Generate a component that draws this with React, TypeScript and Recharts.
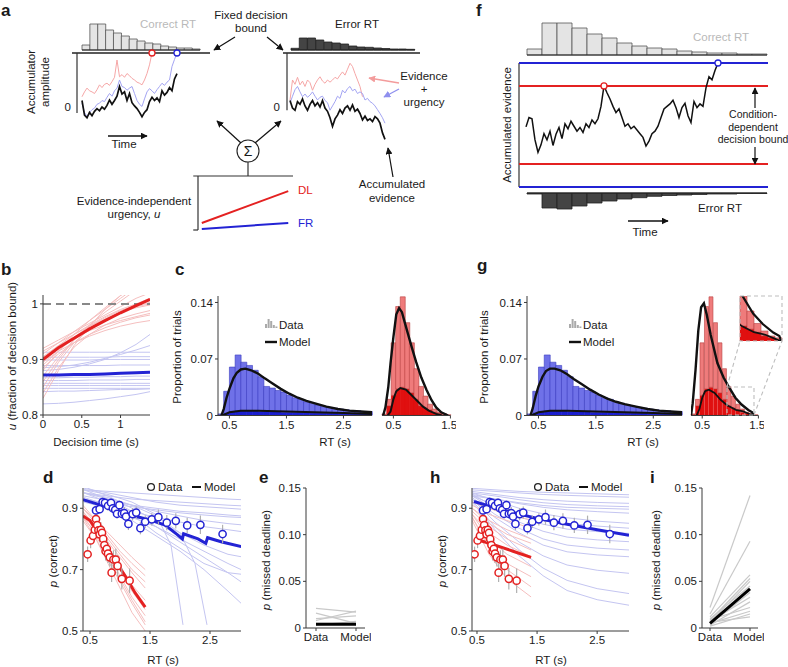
import {
  ComposedChart, Line, Bar, Scatter, XAxis, YAxis,
  ReferenceLine, ReferenceDot, ErrorBar,
} from "recharts";

const FONT = '"Liberation Sans", Arial, Helvetica, sans-serif';
const INK = "#1a1a1a";
const AX = "#3a3a3a";
const BLUE = "#2323d4";
const RED = "#e42121";
const THIN_BLUE = "#c4c5f1";
const THIN_RED = "#f5bfbf";
const GRAY_TXT = "#b9b9b9";

// ---------- a: single-trial schematic (0 = start, 1 = fixed bound) ----------
const aLeftBlack = [0.12, -0.15, -0.2, -0.1, -0.16, -0.08, -0.03, -0.07, 0.0, -0.04, 0.03, 0.13, 0.05, 0.12, 0.2, 0.38, 0.24, 0.28, 0.12, 0.25, 0.08, 0.02, -0.03, -0.1, -0.18, -0.1, -0.05, 0.1, 0.18, 0.12, 0.17, 0.1, 0.3, 0.22, 0.27, 0.36, 0.3, 0.52, 0.62];
const aLeftBlue = [0.07, -0.1, -0.18, -0.1, -0.05, -0.02, 0.05, 0.07, 0.12, 0.1, 0.18, 0.25, 0.2, 0.3, 0.35, 0.5, 0.38, 0.36, 0.31, 0.35, 0.38, 0.25, 0.12, 0.05, 0.01, 0.15, 0.28, 0.34, 0.3, 0.25, 0.32, 0.38, 0.44, 0.4, 0.46, 0.5, 0.75, 0.88, 1.0];
const aLeftRed = [0.19, 0.28, 0.35, 0.3, 0.28, 0.25, 0.32, 0.41, 0.36, 0.42, 0.44, 0.4, 0.47, 0.55, 0.87, 0.56, 0.6, 0.55, 0.62, 0.58, 0.53, 0.5, 0.46, 0.44, 0.41, 0.5, 0.62, 0.78, 1.0];
const aRightBlack = [0.12, -0.02, -0.06, 0.1, 0.05, 0.15, 0.02, -0.06, 0.05, 0.12, 0.02, 0.08, 0.0, 0.12, -0.02, -0.08, -0.2, -0.36, -0.22, -0.15, -0.05, -0.12, -0.02, 0.02, -0.06, 0.04, -0.08, -0.04, -0.12, -0.24, -0.17, -0.25, -0.22, -0.27, -0.18, -0.22, -0.3, -0.48, -0.6];
const aRightBlue = [0.07, 0.2, 0.32, 0.38, 0.28, 0.19, 0.24, 0.18, 0.22, 0.28, 0.2, 0.13, 0.18, 0.2, 0.12, 0.08, -0.06, 0.02, 0.1, 0.2, 0.16, 0.31, 0.26, 0.34, 0.38, 0.3, 0.33, 0.25, 0.28, 0.25, 0.13, 0.16, 0.1, 0.07, 0.02, -0.05, -0.12, -0.2, -0.3];
const aRightRed = [0.13, 0.5, 0.42, 0.55, 0.41, 0.48, 0.38, 0.5, 0.45, 0.31, 0.42, 0.5, 0.56, 0.48, 0.44, 0.5, 0.46, 0.5, 0.55, 0.52, 0.59, 0.65, 0.59, 0.7, 0.81, 0.75, 0.62, 0.5, 0.38, 0.19];
const aCorrectHist = [5, 26, 26, 20, 17, 14, 11, 9, 7, 6, 4, 3, 2, 2, 1];
const aErrorHist = [1.7, 12, 12, 10, 8, 7, 6, 4, 3, 2.7, 2, 1.5, 1, 1, 0.7];
const urgencyTime = [0.04, 0.95];
const urgencyDL = [0.13, 0.72];
const urgencyFR = [0.02, 0.13];

// ---------- f: condition-dependent bound schematic ----------
const fTrace = [-0.03, 0.12, 0.1, -0.24, -0.44, -0.32, -0.14, -0.24, -0.1, -0.33, -0.15, -0.04, -0.22, 0.02, -0.06, 0.06, -0.02, -0.1, -0.04, -0.12, 0.02, -0.04, 0.08, 0.02, 0.1, 0.3, 0.63, 0.52, 0.42, 0.3, 0.2, 0.26, 0.12, -0.02, 0.02, -0.06, -0.02, -0.08, -0.14, -0.2, -0.34, -0.26, -0.14, -0.1, -0.02, 0.12, 0.26, 0.3, 0.34, 0.4, 0.28, 0.12, 0.28, 0.35, 0.15, 0.04, 0.38, 0.28, 0.34, 0.3, 0.6, 0.78, 0.73, 0.88, 1.0];
const fBoundDL = 0.63;
const fCorrectHist = [6, 32, 32, 27, 21, 17, 12, 9, 7, 6, 4, 3, 2, 2, 1, 1];
const fErrorHist = [1, 15, 16, 13, 10, 8, 6, 4.7, 3.3, 2.5, 2, 1.5, 1, 1, 0.5, 0.5];

// ---------- b: urgency signals ----------
const bTime = [0, 0.2, 0.4, 0.6, 0.8, 1.0, 1.2, 1.38];
const bRedMean = [0.9, 0.921, 0.938, 0.955, 0.97, 0.984, 0.997, 1.008];
const bBlueMean = [0.872, 0.872, 0.873, 0.873, 0.874, 0.875, 0.876, 0.877];
const bRedThin = [
  [0.92, 0.935, 0.95, 0.965, 0.98, 0.995, 1.01, 1.02],
  [0.915, 0.93, 0.945, 0.96, 0.972, 0.984, 0.995, 1.003],
  [0.91, 0.93, 0.95, 0.97, 0.99, 1.01, 1.03, 1.05],
  [0.9, 0.925, 0.945, 0.962, 0.977, 0.99, 1.0, 1.01],
  [0.89, 0.915, 0.94, 0.96, 0.975, 0.988, 0.998, 1.006],
  [0.88, 0.915, 0.945, 0.97, 0.993, 1.015, 1.035, 1.05],
  [0.87, 0.905, 0.935, 0.955, 0.972, 0.985, 0.995, 1.0],
  [0.86, 0.9, 0.935, 0.962, 0.985, 1.005, 1.025, 1.04],
  [0.85, 0.895, 0.93, 0.955, 0.972, 0.985, 0.993, 0.998],
  [0.84, 0.885, 0.922, 0.945, 0.962, 0.974, 0.982, 0.988],
  [0.83, 0.88, 0.925, 0.96, 0.99, 1.015, 1.035, 1.05],
  [0.905, 0.925, 0.94, 0.952, 0.962, 0.97, 0.977, 0.983],
  [0.895, 0.915, 0.93, 0.942, 0.952, 0.96, 0.966, 0.97],
  [0.885, 0.91, 0.93, 0.945, 0.957, 0.967, 0.975, 0.98],
];
const bBlueThin = [
  [0.88, 0.882, 0.886, 0.892, 0.9, 0.912, 0.927, 0.945],
  [0.885, 0.887, 0.89, 0.895, 0.902, 0.909, 0.917, 0.925],
  [0.913, 0.913, 0.913, 0.913, 0.913, 0.913, 0.913, 0.913],
  [0.904, 0.904, 0.904, 0.904, 0.904, 0.905, 0.905, 0.905],
  [0.899, 0.899, 0.899, 0.899, 0.9, 0.9, 0.9, 0.9],
  [0.889, 0.889, 0.889, 0.889, 0.889, 0.89, 0.89, 0.89],
  [0.867, 0.867, 0.868, 0.868, 0.869, 0.869, 0.87, 0.87],
  [0.862, 0.862, 0.862, 0.863, 0.863, 0.863, 0.864, 0.864],
  [0.857, 0.857, 0.857, 0.857, 0.857, 0.857, 0.857, 0.857],
  [0.853, 0.853, 0.853, 0.853, 0.853, 0.853, 0.853, 0.853],
  [0.848, 0.848, 0.848, 0.848, 0.848, 0.848, 0.848, 0.848],
  [0.82, 0.821, 0.823, 0.826, 0.829, 0.833, 0.837, 0.842],
  [0.842, 0.843, 0.843, 0.844, 0.845, 0.846, 0.846, 0.847],
];

// ---------- c / g: RT distributions ----------
const frBins = [0.35, 0.45, 0.55, 0.65, 0.75, 0.85, 0.95, 1.05, 1.15, 1.25, 1.35, 1.45, 1.55, 1.65, 1.75, 1.85, 1.95, 2.05, 2.15, 2.25, 2.35, 2.45, 2.55, 2.65, 2.75, 2.85, 2.95];
const frCorrect = [0.002, 0.03, 0.06, 0.075, 0.066, 0.062, 0.056, 0.048, 0.036, 0.034, 0.031, 0.029, 0.025, 0.022, 0.02, 0.017, 0.015, 0.013, 0.011, 0.01, 0.009, 0.008, 0.007, 0.006, 0.006, 0.005, 0.005];
const frError = [0.001, 0.003, 0.005, 0.006, 0.006, 0.006, 0.006, 0.005, 0.005, 0.005, 0.005, 0.004, 0.004, 0.004, 0.004, 0.004, 0.003, 0.003, 0.003, 0.003, 0.003, 0.002, 0.002, 0.002, 0.002, 0.002, 0.002];
const dlBins = [0.34, 0.42, 0.5, 0.58, 0.66, 0.74, 0.82, 0.9, 0.98, 1.06, 1.14, 1.22, 1.3, 1.38, 1.46];
const dlCorrect = [0.002, 0.02, 0.09, 0.135, 0.147, 0.115, 0.09, 0.058, 0.036, 0.024, 0.014, 0.008, 0.004, 0.0025, 0.001];
const dlError = [0.001, 0.012, 0.025, 0.033, 0.035, 0.033, 0.028, 0.02, 0.012, 0.0095, 0.007, 0.004, 0.0027, 0.001, 0];

const cFrModelX = [0.36, 0.4, 0.45, 0.5, 0.57, 0.63, 0.7, 0.78, 0.88, 1.0, 1.12, 1.25, 1.4, 1.55, 1.7, 1.85, 2.0, 2.2, 2.4, 2.6, 2.8, 3.0];
const cFrModel = [0, 0.008, 0.022, 0.033, 0.046, 0.053, 0.057, 0.058, 0.056, 0.052, 0.046, 0.04, 0.033, 0.027, 0.022, 0.018, 0.015, 0.011, 0.008, 0.006, 0.005, 0.004];
const gFrModel = [0, 0.009, 0.024, 0.036, 0.048, 0.055, 0.058, 0.058, 0.056, 0.051, 0.045, 0.039, 0.032, 0.026, 0.021, 0.017, 0.014, 0.011, 0.008, 0.006, 0.005, 0.004];
const frErrModelX = [0.38, 0.5, 0.7, 1.0, 1.5, 2.0, 2.5, 3.0];
const frErrModel = [0, 0.004, 0.006, 0.006, 0.005, 0.004, 0.003, 0.002];
const cDlModelX = [0.32, 0.36, 0.41, 0.45, 0.5, 0.55, 0.6, 0.65, 0.7, 0.82, 0.9, 0.99, 1.08, 1.17, 1.25, 1.34, 1.46];
const cDlModel = [0, 0.01, 0.035, 0.065, 0.097, 0.125, 0.133, 0.128, 0.115, 0.085, 0.066, 0.047, 0.032, 0.019, 0.01, 0.004, 0];
const cDlErrModelX = [0.4, 0.45, 0.5, 0.55, 0.62, 0.72, 0.82, 0.92, 1.02, 1.12, 1.25, 1.35];
const cDlErrModel = [0, 0.005, 0.02, 0.03, 0.034, 0.032, 0.025, 0.018, 0.011, 0.006, 0.002, 0];
const gDlModelX = [0.3, 0.33, 0.38, 0.43, 0.48, 0.53, 0.58, 0.65, 0.77, 0.88, 0.96, 1.09, 1.2, 1.32, 1.39, 1.41];
const gDlModel = [0, 0.015, 0.056, 0.105, 0.134, 0.139, 0.125, 0.1, 0.065, 0.047, 0.037, 0.022, 0.0136, 0.0068, 0.004, 0];
const gDlErrModelX = [0.4, 0.45, 0.5, 0.55, 0.62, 0.72, 0.82, 0.92, 0.96, 1.1, 1.23, 1.35, 1.4];
const gDlErrModel = [0, 0.008, 0.022, 0.03, 0.032, 0.028, 0.02, 0.014, 0.012, 0.007, 0.005, 0.0015, 0];

// ---------- d / h: accuracy vs RT ----------
const frPtX = [0.6, 0.66, 0.71, 0.75, 0.8, 0.85, 0.88, 0.92, 0.95, 0.99, 1.03, 1.07, 1.1, 1.14, 1.21, 1.27, 1.34, 1.42, 1.53, 1.64, 1.78, 1.93, 2.12, 2.34, 2.71];
const frPtY = [0.893, 0.897, 0.92, 0.918, 0.908, 0.918, 0.9, 0.895, 0.882, 0.91, 0.882, 0.884, 0.873, 0.849, 0.881, 0.886, 0.835, 0.856, 0.864, 0.871, 0.853, 0.859, 0.844, 0.846, 0.816];
const frPtErr = [0.015, 0.015, 0.015, 0.015, 0.015, 0.015, 0.015, 0.015, 0.015, 0.015, 0.015, 0.02, 0.02, 0.02, 0.02, 0.02, 0.02, 0.02, 0.02, 0.025, 0.025, 0.025, 0.025, 0.03, 0.03];
const dlPtX = [0.46, 0.51, 0.55, 0.58, 0.6, 0.62, 0.64, 0.66, 0.68, 0.7, 0.72, 0.74, 0.76, 0.78, 0.8, 0.83, 0.86, 0.89, 0.93, 0.96, 1.03, 1.16];
const dlPtY = [0.75, 0.795, 0.81, 0.83, 0.865, 0.845, 0.828, 0.815, 0.83, 0.82, 0.8, 0.78, 0.76, 0.768, 0.752, 0.74, 0.69, 0.733, 0.733, 0.712, 0.67, 0.664];
const dlPtErr = [0.025, 0.025, 0.025, 0.025, 0.025, 0.025, 0.025, 0.025, 0.025, 0.025, 0.03, 0.03, 0.03, 0.03, 0.03, 0.03, 0.03, 0.03, 0.035, 0.035, 0.035, 0.04];

const dFrModelX = [0.383, 0.6, 0.8, 1.0, 1.25, 1.5, 1.75, 1.95, 2.04, 2.06, 2.3, 2.43, 2.46, 2.7, 3.02];
const dFrModel = [0.928, 0.915, 0.902, 0.888, 0.874, 0.862, 0.845, 0.815, 0.8, 0.817, 0.8, 0.786, 0.804, 0.79, 0.775];
const dDlModelX = [0.383, 0.5, 0.7, 0.9, 1.1, 1.25, 1.42];
const dDlModel = [0.875, 0.86, 0.8, 0.735, 0.675, 0.625, 0.578];
const dThinX = [0.4, 0.8, 1.2, 1.6, 2.0, 2.4, 2.8, 3.02];
const dFrThin = [
  [0.96, 0.955, 0.95, 0.945, 0.94, 0.935, 0.93, 0.928],
  [0.95, 0.94, 0.93, 0.925, 0.92, 0.915, 0.91, 0.908],
  [0.965, 0.95, 0.935, 0.92, 0.91, 0.905, 0.9, 0.897],
  [0.94, 0.925, 0.91, 0.9, 0.89, 0.885, 0.878, 0.875],
  [0.93, 0.915, 0.905, 0.895, 0.885, 0.878, 0.872, 0.87],
  [0.95, 0.93, 0.91, 0.89, 0.875, 0.86, 0.85, 0.846],
  [0.935, 0.91, 0.89, 0.87, 0.855, 0.84, 0.83, 0.824],
  [0.97, 0.94, 0.9, 0.86, 0.82, 0.78, 0.75, 0.742],
  [0.92, 0.9, 0.87, 0.84, 0.8, 0.76, 0.72, 0.7],
  [0.95, 0.92, 0.88, 0.82, 0.77, 0.72, 0.69, 0.685],
  [0.96, 0.93, 0.89, 0.84, 0.79, 0.74, 0.69, 0.66],
  [0.93, 0.9, 0.86, 0.81, 0.76, 0.7, 0.63, 0.59],
];
const dSteepX1 = [0.4, 0.8, 1.2, 1.6, 1.85, 2.05];
const dSteep1 = [0.96, 0.945, 0.92, 0.88, 0.78, 0.52];
const dSteepX2 = [0.4, 0.8, 1.2, 1.6, 2.0, 2.25, 2.45];
const dSteep2 = [0.95, 0.935, 0.91, 0.875, 0.82, 0.72, 0.52];
const dDlThinX = [0.38, 0.6, 0.8, 1.0, 1.2, 1.42];
const dDlThin = [
  [0.9, 0.86, 0.82, 0.78, 0.74, 0.7],
  [0.89, 0.84, 0.79, 0.74, 0.69, 0.64],
  [0.88, 0.83, 0.77, 0.71, 0.65, 0.6],
  [0.87, 0.82, 0.76, 0.7, 0.63, 0.57],
  [0.88, 0.81, 0.74, 0.67, 0.6, 0.53],
  [0.86, 0.8, 0.73, 0.66, 0.59, 0.52],
  [0.9, 0.85, 0.8, 0.75, 0.7, 0.66],
  [0.89, 0.82, 0.75, 0.68, 0.61, 0.55],
  [0.87, 0.8, 0.72, 0.64, 0.56, 0.5],
  [0.91, 0.86, 0.81, 0.76, 0.72, 0.68],
];

const hFrModelX = [0.45, 1.0, 1.5, 2.0, 2.5, 3.03];
const hFrModel = [0.922, 0.89, 0.867, 0.848, 0.83, 0.812];
const hDlModelX = [0.55, 0.8, 1.1, 1.4];
const hDlModel = [0.795, 0.78, 0.76, 0.74];
const hThinX = [0.42, 0.8, 1.2, 1.6, 2.0, 2.5, 3.03];
const hFrThin = [
  [0.965, 0.96, 0.955, 0.952, 0.95, 0.947, 0.944],
  [0.96, 0.955, 0.95, 0.945, 0.942, 0.939, 0.936],
  [0.955, 0.945, 0.935, 0.928, 0.923, 0.919, 0.916],
  [0.95, 0.94, 0.928, 0.918, 0.912, 0.908, 0.905],
  [0.94, 0.93, 0.918, 0.909, 0.903, 0.9, 0.897],
  [0.945, 0.93, 0.915, 0.903, 0.895, 0.889, 0.884],
  [0.95, 0.925, 0.9, 0.882, 0.869, 0.858, 0.851],
  [0.94, 0.91, 0.885, 0.865, 0.851, 0.842, 0.835],
  [0.945, 0.905, 0.872, 0.848, 0.832, 0.824, 0.818],
  [0.94, 0.895, 0.855, 0.825, 0.806, 0.797, 0.791],
  [0.935, 0.88, 0.835, 0.8, 0.78, 0.77, 0.764],
  [0.93, 0.87, 0.82, 0.78, 0.758, 0.748, 0.742],
  [0.93, 0.855, 0.79, 0.745, 0.715, 0.698, 0.688],
  [0.925, 0.84, 0.765, 0.705, 0.665, 0.638, 0.622],
  [0.92, 0.83, 0.745, 0.68, 0.632, 0.602, 0.584],
];
const hDlThinX = [0.42, 0.7, 1.0, 1.4];
const hDlThin = [
  [0.92, 0.9, 0.88, 0.862],
  [0.91, 0.88, 0.86, 0.835],
  [0.9, 0.86, 0.83, 0.8],
  [0.9, 0.85, 0.815, 0.786],
  [0.89, 0.84, 0.8, 0.764],
  [0.88, 0.82, 0.78, 0.742],
  [0.88, 0.8, 0.75, 0.71],
  [0.87, 0.78, 0.72, 0.677],
  [0.87, 0.77, 0.7, 0.644],
  [0.86, 0.75, 0.67, 0.611],
];

// ---------- e / i: missed deadlines ----------
const eData = [0.021, 0.016, 0.01, 0.005, 0.003, 0.008];
const eModel = [0.017, 0.005, 0.013, 0.005, 0.007, 0.018];
const eMean = [0.004, 0.004];
const iData = [0.022, 0.015, 0.012, 0.008, 0.006, 0.01, 0.004, 0.007, 0.003, 0.009, 0.005, 0.002, 0.006];
const iModel = [0.142, 0.093, 0.057, 0.053, 0.05, 0.045, 0.038, 0.033, 0.028, 0.022, 0.018, 0.015, 0.012];
const iMean = [0.005, 0.042];

// ---------- helpers ----------
const pts = (xs: number[], ys: number[]) => xs.map((x, k) => ({ x, y: ys[k] }));

const axisProps = {
  tick: { fontSize: 11.5, fill: INK },
  tickSize: 3,
  tickMargin: 2,
  axisLine: { stroke: AX, strokeWidth: 1 },
  tickLine: { stroke: AX },
  allowDataOverflow: true,
};

const M = 6;
// places a chart so that its plot area covers page pixels x0..x1, y0..y1
function Frame({ x0, y0, x1, y1, yw = 0, xh = 0, data, children }: any) {
  const width = M * 2 + yw + (x1 - x0);
  const height = M * 2 + (y1 - y0) + xh;
  return (
    <div style={{ position: "absolute", left: x0 - yw - M, top: y0 - M }}>
      <ComposedChart width={width} height={height} data={data}
        margin={{ top: M, right: M, bottom: M, left: M }} barCategoryGap={0} barGap={0}>
        {children}
      </ComposedChart>
    </div>
  );
}

function thin(key: string, data: any[], stroke: string, w = 1, xAxisId: any = 0) {
  return (
    <Line key={key} xAxisId={xAxisId} data={data} dataKey="y" stroke={stroke} strokeWidth={w}
      dot={false} isAnimationActive={false} type="linear" />
  );
}

function MiniHist({ x0, x1, y0, y1, values, max, fill, stroke, down = false }: any) {
  const rows = values.map((v: number, k: number) => ({ k, v }));
  return (
    <Frame x0={x0} y0={y0} x1={x1} y1={y1} data={rows}>
      <XAxis dataKey="k" type="category" hide height={0} />
      <YAxis type="number" domain={[0, max]} hide reversed={down} width={0} />
      <Bar dataKey="v" fill={fill} stroke={stroke} strokeWidth={0.8} isAnimationActive={false} />
      <ReferenceLine y={0} stroke="#222" strokeWidth={1.2} />
    </Frame>
  );
}

function Trial({ x0, x1, lo, hi, axisAt, axisBottom, black, blue, red, redDot, blueDot }: any) {
  const rows = black.map((v: number, i: number) => ({ i, k: v, b: blue[i] ?? null, r: red[i] ?? null }));
  return (
    <Frame x0={x0} y0={53} x1={x1} y1={144.8} data={rows}>
      <XAxis dataKey="i" type="number" domain={[lo, hi]} hide allowDataOverflow height={0} />
      <YAxis type="number" domain={[-0.7, 1]} hide allowDataOverflow width={0} />
      <ReferenceLine y={1} stroke="#222" strokeWidth={1.3} />
      <ReferenceLine segment={[{ x: axisAt, y: 1 }, { x: axisAt, y: axisBottom }]} stroke="#333" strokeWidth={1.2} />
      <Line dataKey="r" stroke="#f5a6a6" strokeWidth={1} dot={false} isAnimationActive={false} />
      <Line dataKey="b" stroke="#a3a4f2" strokeWidth={1} dot={false} isAnimationActive={false} />
      <Line dataKey="k" stroke="#111" strokeWidth={1.7} dot={false} isAnimationActive={false} />
      {redDot != null && <ReferenceDot x={redDot} y={1} r={3} fill="#fff" stroke={RED} strokeWidth={1.3} />}
      {blueDot != null && <ReferenceDot x={blueDot} y={1} r={3} fill="#fff" stroke={BLUE} strokeWidth={1.3} />}
    </Frame>
  );
}

function RTHist({ x0, x1, hi, ticks, bins, corr, err, light, lightStroke, dark, models, yAxis, y0 = 295.5, y1 = 415, ymax = 0.148, lo = 0.3, showX = true }: any) {
  const rows = bins.map((b: number, k: number) => ({ bin: b, err: err[k], rest: Math.max(corr[k] - err[k], 0) }));
  return (
    <Frame x0={x0} y0={y0} x1={x1} y1={y1} yw={yAxis ? 34 : 0} xh={showX ? 20 : 0} data={rows}>
      <XAxis xAxisId="num" dataKey="x" type="number" domain={[lo, hi]} ticks={ticks} hide={!showX} height={showX ? 20 : 0} {...axisProps} />
      <XAxis xAxisId="cat" dataKey="bin" type="category" hide height={0} />
      <YAxis dataKey="y" type="number" domain={[0, ymax]} ticks={[0, 0.07, 0.14]} hide={!yAxis} width={yAxis ? 34 : 0} {...axisProps} />
      <Bar xAxisId="cat" dataKey="err" stackId="h" fill={dark} stroke={dark} strokeWidth={0.4} isAnimationActive={false} />
      <Bar xAxisId="cat" dataKey="rest" stackId="h" fill={light} stroke={lightStroke} strokeWidth={0.6} isAnimationActive={false} />
      {models.map((m: any, k: number) => thin(`m${k}`, m.data, "#111", m.w, "num"))}
    </Frame>
  );
}

function Circle(color: string) {
  return (p: any) => <circle cx={p.cx} cy={p.cy} r={3.6} fill="#fff" stroke={color} strokeWidth={1.5} />;
}

function Accuracy({ x0, x1, lo, hi, frThin, dlThin, frModel, dlModel }: any) {
  const fr = frPtX.map((x, k) => ({ x, y: frPtY[k], e: frPtErr[k] }));
  const dl = dlPtX.map((x, k) => ({ x, y: dlPtY[k], e: dlPtErr[k] }));
  return (
    <Frame x0={x0} y0={488} x1={x1} y1={631} yw={34} xh={20}>
      <XAxis dataKey="x" type="number" domain={[lo, hi]} ticks={[0.5, 1.5, 2.5]} height={20} {...axisProps} />
      <YAxis dataKey="y" type="number" domain={[0.5, 0.966]} ticks={[0.5, 0.7, 0.9]} width={34} {...axisProps} />
      {frThin.map((d: any, k: number) => thin(`fb${k}`, d, THIN_BLUE, 1))}
      {dlThin.map((d: any, k: number) => thin(`fr${k}`, d, THIN_RED, 1))}
      {thin("fm", frModel, BLUE, 3)}
      {thin("dm", dlModel, RED, 3)}
      <Scatter data={fr} dataKey="y" isAnimationActive={false} shape={Circle(BLUE)}>
        <ErrorBar dataKey="e" direction="y" width={0} stroke="#b0b0b0" strokeWidth={1.2} />
      </Scatter>
      <Scatter data={dl} dataKey="y" isAnimationActive={false} shape={Circle(RED)}>
        <ErrorBar dataKey="e" direction="y" width={0} stroke="#b0b0b0" strokeWidth={1.2} />
      </Scatter>
    </Frame>
  );
}

function Missed({ x0, x1, lo, hi, data, model, mean }: any) {
  const fmt = (v: number) => (v === 0 ? "0" : v.toFixed(2));
  return (
    <Frame x0={x0} y0={488} x1={x1} y1={628} yw={34} xh={20}>
      <XAxis dataKey="x" type="number" domain={[lo, hi]} ticks={[0, 1]} height={20}
        tickFormatter={(v: number) => (v === 0 ? "Data" : "Model")} {...axisProps} />
      <YAxis dataKey="y" type="number" domain={[0, 0.15]} ticks={[0, 0.05, 0.1, 0.15]} tickFormatter={fmt} width={34} {...axisProps} />
      {data.map((d: number, k: number) => thin(`s${k}`, pts([0, 1], [d, model[k]]), "#c9c9c9", 1.2))}
      {thin("mean", pts([0, 1], mean), "#000", 3)}
    </Frame>
  );
}

function T({ x, y, children, anchor = "middle", fill = INK, size = 11.5, rot = false, weight, italic }: any) {
  return (
    <text x={x} y={y} textAnchor={anchor} fill={fill} fontSize={size} fontWeight={weight}
      fontStyle={italic ? "italic" : undefined}
      dominantBaseline={rot ? "central" : undefined}
      transform={rot ? `rotate(-90 ${x} ${y})` : undefined}>
      {children}
    </text>
  );
}

function Legend({ x, y, circle }: any) {
  if (circle) {
    return (
      <g>
        <circle cx={x} cy={y} r={3.4} fill="#fff" stroke="#222" strokeWidth={1.3} />
        <T x={x + 7} y={y + 4} anchor="start">Data</T>
        <line x1={x + 41} y1={y} x2={x + 50} y2={y} stroke="#111" strokeWidth={2} />
        <T x={x + 53} y={y + 4} anchor="start">Model</T>
      </g>
    );
  }
  const hs = [4, 9, 7, 3, 1.5];
  return (
    <g>
      {hs.map((h, k) => <rect key={k} x={x + k * 2.6} y={y + 10 - h} width={2} height={h} fill="#aaa" />)}
      <T x={x + 14} y={y + 11} anchor="start">Data</T>
      <line x1={x} y1={y + 24} x2={x + 12} y2={y + 24} stroke="#111" strokeWidth={2.4} />
      <T x={x + 14} y={y + 28} anchor="start">Model</T>
    </g>
  );
}

function RotLabel({ x, y, lead, rest }: any) {
  return (
    <text x={x} y={y} textAnchor="middle" dominantBaseline="central" fontSize={11.5} fill={INK}
      transform={`rotate(-90 ${x} ${y})`}><tspan fontStyle="italic">{lead}</tspan>{rest}</text>
  );
}

export default function App() {
  const bRed = bRedThin.map((r) => pts(bTime, r));
  const bBlue = bBlueThin.map((r) => pts(bTime, r));
  const dFr = [...dFrThin.map((r) => pts(dThinX, r)), pts(dSteepX1, dSteep1), pts(dSteepX2, dSteep2)];
  const dDl = dDlThin.map((r) => pts(dDlThinX, r));
  const hFr = hFrThin.map((r) => pts(hThinX, r));
  const hDl = hDlThin.map((r) => pts(hDlThinX, r));
  const fRows = fTrace.map((v, i) => ({ i, v }));

  return (
    <div style={{ position: "absolute", left: 0, top: 0, width: 788, height: 667, background: "#fff", fontFamily: FONT, overflow: "hidden" }}>
      {/* a */}
      <MiniHist x0={82} x1={200} y0={24} y1={50} values={aCorrectHist} max={26} fill="#e4e4e4" stroke="#555" />
      <MiniHist x0={291} x1={415} y0={38} y1={50} values={aErrorHist} max={12} fill="#444" stroke="#222" />
      <Trial x0={72} x1={210} lo={-4} hi={51.2} axisAt={-2} axisBottom={-0.11}
        black={aLeftBlack} blue={aLeftBlue} red={aLeftRed} redDot={28} blueDot={38} />
      <Trial x0={283} x1={420} lo={-2.8} hi={52} axisAt={-1.2} axisBottom={-0.06}
        black={aRightBlack} blue={aRightBlue} red={aRightRed} />
      <Frame x0={198} y0={176} x1={293} y1={230}>
        <XAxis dataKey="x" type="number" domain={[0, 1]} hide height={0} />
        <YAxis type="number" domain={[0, 1]} hide width={0} />
        <ReferenceLine segment={[{ x: 0, y: 0 }, { x: 0, y: 1 }]} stroke="#333" strokeWidth={1.2} />
        <ReferenceLine segment={[{ x: -0.05, y: 1 }, { x: 1, y: 1 }]} stroke="#333" strokeWidth={1.2} ifOverflow="visible" />
        <ReferenceLine segment={[{ x: -0.05, y: 0 }, { x: 0, y: 0 }]} stroke="#333" strokeWidth={1.2} ifOverflow="visible" />
        {thin("dl", pts(urgencyTime, urgencyDL), RED, 2)}
        {thin("fr", pts(urgencyTime, urgencyFR), BLUE, 2)}
      </Frame>

      {/* f */}
      <MiniHist x0={527} x1={767} y0={23} y1={55} values={fCorrectHist} max={32} fill="#e4e4e4" stroke="#555" />
      <MiniHist x0={527} x1={767} y0={193} y1={209} values={fErrorHist} max={16} fill="#444" stroke="#222" down />
      <Frame x0={519} y0={63} x1={768} y1={187} data={fRows}>
        <XAxis dataKey="i" type="number" domain={[-2.33, 80.67]} hide allowDataOverflow height={0} />
        <YAxis type="number" domain={[-1, 1]} hide allowDataOverflow width={0} />
        <ReferenceLine x={-2.33} stroke="#333" strokeWidth={1.2} />
        <ReferenceLine y={1} stroke={BLUE} strokeWidth={2} />
        <ReferenceLine y={-1} stroke={BLUE} strokeWidth={2} />
        <ReferenceLine y={fBoundDL} stroke={RED} strokeWidth={2} />
        <ReferenceLine y={-fBoundDL} stroke={RED} strokeWidth={2} />
        <Line dataKey="v" stroke="#111" strokeWidth={1.5} dot={false} isAnimationActive={false} />
        <ReferenceDot x={26} y={fBoundDL} r={3} fill="#fff" stroke={RED} strokeWidth={1.3} />
        <ReferenceDot x={64} y={1} r={3} fill="#fff" stroke={BLUE} strokeWidth={1.3} />
      </Frame>

      {/* b */}
      <Frame x0={43} y0={295} x1={150} y1={415} yw={34} xh={20}>
        <XAxis dataKey="x" type="number" domain={[0, 1.38]} ticks={[0, 0.5, 1]} height={20} {...axisProps} />
        <YAxis dataKey="y" type="number" domain={[0.8, 1.016]} ticks={[0.8, 0.9, 1]} width={34} {...axisProps} />
        {bBlue.map((d, k) => thin(`bb${k}`, d, THIN_BLUE, 1))}
        {bRed.map((d, k) => thin(`br${k}`, d, THIN_RED, 1))}
        <ReferenceLine y={1} stroke="#888" strokeWidth={2} strokeDasharray="8 5" />
        {thin("bbm", pts(bTime, bBlueMean), BLUE, 3)}
        {thin("brm", pts(bTime, bRedMean), RED, 3)}
      </Frame>

      {/* c */}
      <RTHist x0={218} x1={372} hi={3.0} ticks={[0.5, 1.5, 2.5]} bins={frBins} corr={frCorrect} err={frError}
        light="#6f71e8" lightStroke="#3b3dc0" dark="#1b1fcf" yAxis
        models={[{ data: pts(cFrModelX, cFrModel), w: 2.4 }, { data: pts(frErrModelX, frErrModel), w: 2 }]} />
      <RTHist x0={381.6} x1={450} hi={1.5} ticks={[0.5, 1.5]} bins={dlBins} corr={dlCorrect} err={dlError}
        light="#ef7b7b" lightStroke="#b94343" dark="#e01010"
        models={[{ data: pts(cDlModelX, cDlModel), w: 2.4 }, { data: pts(cDlErrModelX, cDlErrModel), w: 2 }]} />

      {/* g */}
      <RTHist x0={526.5} x1={681.5} hi={3.0} ticks={[0.5, 1.5, 2.5]} bins={frBins} corr={frCorrect} err={frError}
        light="#6f71e8" lightStroke="#3b3dc0" dark="#1b1fcf" yAxis
        models={[{ data: pts(cFrModelX, gFrModel), w: 2.4 }, { data: pts(frErrModelX, frErrModel), w: 2 }]} />
      <RTHist x0={690.6} x1={758} hi={1.5} ticks={[0.5, 1.5]} bins={dlBins} corr={dlCorrect} err={dlError}
        light="#ef7b7b" lightStroke="#b94343" dark="#e01010"
        models={[{ data: pts(gDlModelX, gDlModel), w: 2.4 }, { data: pts(gDlErrModelX, gDlErrModel), w: 1.8 }]} />
      <RTHist x0={740} x1={782} y0={296} y1={341} lo={0.94} hi={1.42} ymax={0.036} showX={false}
        bins={dlBins.slice(8, 14)} corr={dlCorrect.slice(8, 14)} err={dlError.slice(8, 14)}
        light="#ef7b7b" lightStroke="#b94343" dark="#e01010"
        models={[{ data: pts(gDlModelX, gDlModel), w: 2.2 }, { data: pts(gDlErrModelX, gDlErrModel), w: 1.8 }]} />

      {/* d, e, h, i */}
      <Accuracy x0={83} x1={241} lo={0.383} hi={3.017} frThin={dFr} dlThin={dDl}
        frModel={pts(dFrModelX, dFrModel)} dlModel={pts(dDlModelX, dDlModel)} />
      <Missed x0={306} x1={365} lo={-0.25} hi={1.225} data={eData} model={eModel} mean={eMean} />
      <Accuracy x0={472} x1={629} lo={0.417} hi={3.03} frThin={hFr} dlThin={hDl}
        frModel={pts(hFrModelX, hFrModel)} dlModel={pts(hDlModelX, hDlModel)} />
      <Missed x0={702} x1={758} lo={-0.2} hi={1.2} data={iData} model={iModel} mean={iMean} />

      {/* annotations */}
      <svg width={788} height={667} style={{ position: "absolute", left: 0, top: 0, pointerEvents: "none" }}>
        <defs>
          {[["ak", "#111"], ["ap", "#f39c9c"], ["ab", "#8f90ee"]].map(([id, c]) => (
            <marker key={id} id={id} viewBox="0 0 10 10" refX={9} refY={5} markerWidth={7} markerHeight={7}
              markerUnits="userSpaceOnUse" orient="auto">
              <path d="M0,0 L10,5 L0,10 z" fill={c} />
            </marker>
          ))}
        </defs>

        <T x={1} y={16} anchor="start" size={17} weight="bold">a</T>
        <T x={476} y={16} anchor="start" size={17} weight="bold">f</T>
        <T x={1} y={275} anchor="start" size={17} weight="bold">b</T>
        <T x={175} y={275} anchor="start" size={17} weight="bold">c</T>
        <T x={477} y={271} anchor="start" size={17} weight="bold">g</T>
        <T x={43} y={483} anchor="start" size={17} weight="bold">d</T>
        <T x={259} y={483} anchor="start" size={17} weight="bold">e</T>
        <T x={430} y={483} anchor="start" size={17} weight="bold">h</T>
        <T x={650} y={483} anchor="start" size={17} weight="bold">i</T>

        {/* a */}
        <T x={168} y={28} fill={GRAY_TXT}>Correct RT</T>
        <T x={251} y={19}>Fixed decision</T>
        <T x={251} y={32}>bound</T>
        <line x1={235} y1={37} x2={214} y2={50} stroke="#111" strokeWidth={1.2} markerEnd="url(#ak)" />
        <line x1={267} y1={37} x2={283} y2={50} stroke="#111" strokeWidth={1.2} markerEnd="url(#ak)" />
        <T x={357} y={28}>Error RT</T>
        <T x={31} y={82} rot>Accumulator</T>
        <T x={45} y={82} rot>amplitude</T>
        <T x={71} y={111} anchor="end">0</T>
        <T x={280} y={111} anchor="end">0</T>
        <line x1={108} y1={136} x2={147} y2={136} stroke="#111" strokeWidth={1.3} markerEnd="url(#ak)" />
        <T x={124} y={148}>Time</T>
        <circle cx={248} cy={151} r={11} fill="#fff" stroke="#222" strokeWidth={1.1} />
        <T x={248} y={156} size={14}>Σ</T>
        <line x1={241} y1={143} x2={217} y2={121} stroke="#111" strokeWidth={1.2} markerEnd="url(#ak)" />
        <line x1={255} y1={143} x2={281} y2={121} stroke="#111" strokeWidth={1.2} markerEnd="url(#ak)" />
        <line x1={248} y1={162} x2={248} y2={176} stroke="#333" strokeWidth={1.2} />
        <T x={134} y={205}>Evidence-independent</T>
        <text x={134} y={218} textAnchor="middle" fontSize={11.5} fill={INK}>urgency, <tspan fontStyle="italic">u</tspan></text>
        <T x={298} y={194} anchor="start" fill={RED}>DL</T>
        <T x={298} y={227} anchor="start" fill={BLUE}>FR</T>
        <T x={424} y={80}>Evidence</T>
        <T x={424} y={93}>+</T>
        <T x={424} y={106}>urgency</T>
        <line x1={399} y1={83} x2={369} y2={78} stroke="#f39c9c" strokeWidth={1.4} markerEnd="url(#ap)" />
        <line x1={399} y1={89} x2={384} y2={97} stroke="#8f90ee" strokeWidth={1.4} markerEnd="url(#ab)" />
        <T x={392} y={188}>Accumulated</T>
        <T x={392} y={202}>evidence</T>
        <line x1={393} y1={177} x2={388} y2={148} stroke="#111" strokeWidth={1.2} markerEnd="url(#ak)" />

        {/* f */}
        <T x={721} y={41} fill={GRAY_TXT}>Correct RT</T>
        <T x={507} y={125} rot>Accumulated evidence</T>
        <T x={753} y={118} size={10.5}>Condition-</T>
        <T x={753} y={131} size={10.5}>dependent</T>
        <T x={753} y={143} size={10.5}>decision bound</T>
        <line x1={755} y1={108} x2={755} y2={88} stroke="#111" strokeWidth={1.2} markerEnd="url(#ak)" />
        <line x1={755} y1={147} x2={755} y2={164} stroke="#111" strokeWidth={1.2} markerEnd="url(#ak)" />
        <T x={720} y={212}>Error RT</T>
        <line x1={628} y1={221} x2={668} y2={221} stroke="#111" strokeWidth={1.3} markerEnd="url(#ak)" />
        <T x={645} y={236}>Time</T>

        {/* b, c, g */}
        <RotLabel x={12} y={356} lead="u" rest=" (fraction of decision bound)" />
        <T x={96} y={446}>Decision time (s)</T>
        <T x={177} y={357} rot>Proportion of trials</T>
        <T x={335} y={446}>RT (s)</T>
        <Legend x={265} y={318} />
        <T x={484} y={357} rot>Proportion of trials</T>
        <T x={643} y={446}>RT (s)</T>
        <Legend x={569} y={318} />
        <g stroke="#bdbdbd" strokeWidth={1.1} strokeDasharray="4 3" fill="none">
          <rect x={740} y={296} width={42} height={45} />
          <rect x={727} y={387} width={27} height={28} />
          <line x1={727} y1={387} x2={740} y2={341} />
          <line x1={754} y1={415} x2={782} y2={341} />
        </g>

        {/* d, e, h, i */}
        <RotLabel x={53} y={561} lead="p" rest=" (correct)" />
        <T x={163} y={664}>RT (s)</T>
        <Legend x={151} y={487} circle />
        <RotLabel x={266} y={560} lead="p" rest=" (missed deadline)" />
        <RotLabel x={442} y={561} lead="p" rest=" (correct)" />
        <T x={551} y={664}>RT (s)</T>
        <Legend x={538} y={487} circle />
        <RotLabel x={656} y={560} lead="p" rest=" (missed deadline)" />
      </svg>
    </div>
  );
}
